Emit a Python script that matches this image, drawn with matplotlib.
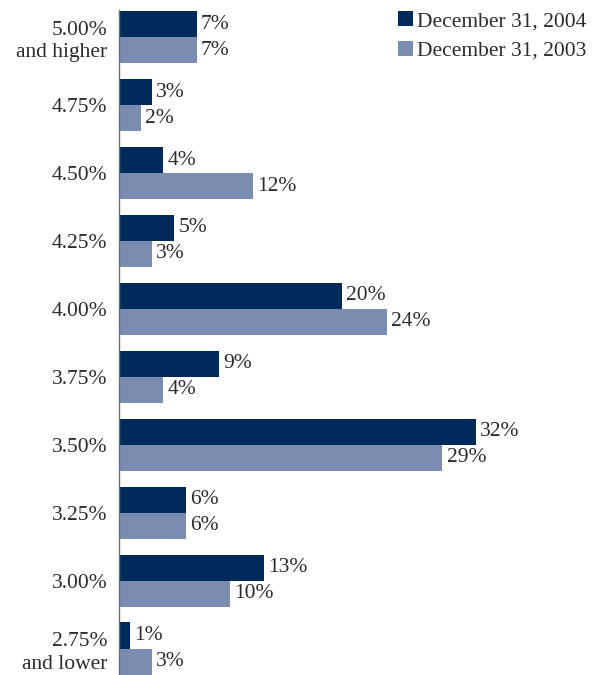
import matplotlib
matplotlib.use("Agg")
import matplotlib.pyplot as plt
import numpy as np

categories = ["5.00%\nand higher", "4.75%", "4.50%", "4.25%", "4.00%",
              "3.75%", "3.50%", "3.25%", "3.00%", "2.75%\nand lower"]
dec_2004 = [7, 3, 4, 5, 20, 9, 32, 6, 13, 1]
dec_2003 = [7, 2, 12, 3, 24, 4, 29, 6, 10, 3]
series_labels = ["December 31, 2004", "December 31, 2003"]

dark = "#002a5c"
light = "#7a8db0"
text_color = "#2b2b2b"
fs = 15.5

plt.rcParams["font.family"] = ["Liberation Serif", "DejaVu Serif"]

W, H = 598, 675
fig = plt.figure(figsize=(W / 100, H / 100), dpi=100)
ax = fig.add_axes([118.5 / W, 0 / H, (W - 118.5) / W, 665 / H])

y = np.arange(len(categories))
h = 0.383
b1 = ax.barh(y - h / 2, dec_2004, height=h, color=dark, label=series_labels[0])
b2 = ax.barh(y + h / 2, dec_2003, height=h, color=light, label=series_labels[1])

for bars, vals in ((b1, dec_2004), (b2, dec_2003)):
    for rect, v in zip(bars, vals):
        ax.annotate(f"{v}%", (v, rect.get_y() + rect.get_height() / 2),
                    xytext=(3, 0), textcoords="offset points",
                    va="center", ha="left", fontsize=fs, color=text_color)

ax.set_xlim(0, (W - 118.5) / 11.17)
ax.set_ylim(9.39, -0.40)
ax.set_yticks(y)
ax.set_yticklabels(categories, fontsize=fs, color=text_color, linespacing=1.25)
ax.tick_params(axis="y", length=0, pad=8)
ax.set_xticks([])
for s in ("top", "right", "bottom"):
    ax.spines[s].set_visible(False)
ax.spines["left"].set_color("#6e6e6e")
ax.spines["left"].set_linewidth(1.0)

leg = fig.legend(handles=[b1, b2], loc="upper left",
                 bbox_to_anchor=(398 / W, 1 - 11 / H), frameon=False,
                 fontsize=fs, handlelength=0.7, handleheight=0.7,
                 handletextpad=0.2, labelspacing=0.45, borderaxespad=0,
                 borderpad=0)
for t in leg.get_texts():
    t.set_color(text_color)

fig.savefig("out.png", dpi=100)
